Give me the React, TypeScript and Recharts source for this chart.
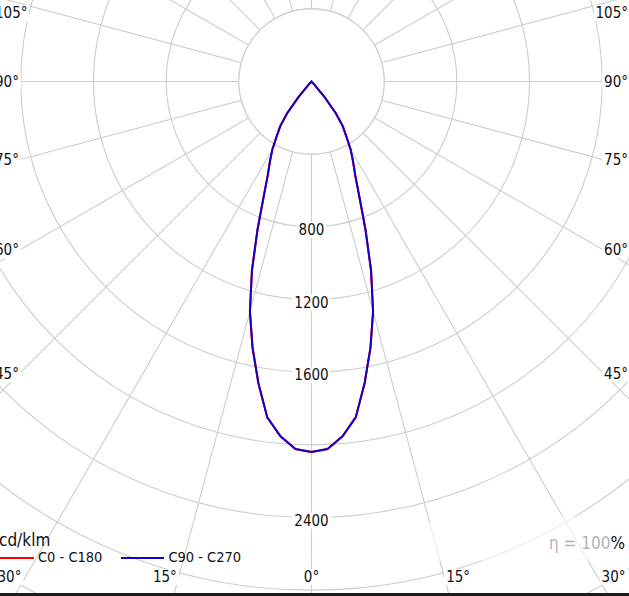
import React from 'react';
import { RadarChart, Radar, PolarGrid, PolarAngleAxis, PolarRadiusAxis, Legend } from 'recharts';

// gamma angles of one half plane (deg), 2.5° steps
const gamma = [
  0, 2.5, 5, 7.5, 10, 12.5, 15, 17.5, 20, 22.5, 25, 27.5, 30, 32.5, 35, 37.5, 40, 42.5, 45,
  47.5, 50, 52.5, 55, 57.5, 60, 62.5, 65, 67.5, 70, 72.5, 75, 77.5, 80, 82.5, 85, 87.5, 90,
  92.5, 95, 97.5, 100, 102.5, 105, 107.5, 110, 112.5, 115, 117.5, 120, 122.5, 125, 127.5, 130,
  132.5, 135, 137.5, 140, 142.5, 145, 147.5, 150, 152.5, 155, 157.5, 160, 162.5, 165, 167.5,
  170, 172.5, 175, 177.5, 180,
];

// cd/klm (both planes overlap)
const c0c180 = [
  2040, 2025, 1960, 1865, 1685, 1500, 1310, 1090, 870, 690, 570, 495, 430, 355, 300, 220, 112, 25, 0,
  0, 0, 0, 0, 0, 0, 0, 0, 0, 0, 0, 0, 0, 0, 0, 0, 0, 0,
  0, 0, 0, 0, 0, 0, 0, 0, 0, 0, 0, 0, 0, 0, 0, 0, 0,
  0, 0, 0, 0, 0, 0, 0, 0, 0, 0, 0, 0, 0, 0, 0, 0, 0, 0,
];
const c90c270 = [
  2040, 2025, 1960, 1865, 1685, 1500, 1310, 1090, 870, 690, 570, 495, 430, 355, 300, 220, 112, 25, 0,
  0, 0, 0, 0, 0, 0, 0, 0, 0, 0, 0, 0, 0, 0, 0, 0, 0, 0,
  0, 0, 0, 0, 0, 0, 0, 0, 0, 0, 0, 0, 0, 0, 0, 0, 0, 0, 0,
  0, 0, 0, 0, 0, 0, 0, 0, 0, 0, 0, 0, 0, 0, 0, 0, 0, 0,
];

const radiusDomain = [0, 3600];
const hubValue = 400;
const radiusLabels = [800, 1200, 1600, 2400];
const angleLabels = [0, 15, 30, 45, 60, 75, 90, 105];
const gridStep = 15;

const W = 629;
const H = 596;
const CX = 311.5;
const CY = 81.5;
const OUTER = 654;
const FONT = '"DejaVu Sans Condensed", "DejaVu Sans", sans-serif';
const GRID = '#cdcdcd';

// full circle: one half C0 / C90, the other C180 / C270
const N = 2 * (gamma.length - 1);
const data = Array.from({ length: N }, (_, pos) => {
  const k = pos < gamma.length ? pos : N - pos;
  return { pos, gamma: gamma[k], c0: c0c180[k], c90: c90c270[k], hub: hubValue };
});

const gridAngles = Array.from({ length: 360 / gridStep }, (_, i) => -90 + i * gridStep);

// frame the angle labels sit against
const frame = { left: -5, right: 628, bottom: 584, labelY: 577, minY: 13 };

const AngleTick = (props: any) => {
  const pos = Number(props.payload?.value);
  const row = data[pos];
  if (!row || !angleLabels.includes(row.gamma)) return <g />;
  let dx = props.x - CX;
  let dy = props.y - CY;
  const len = Math.hypot(dx, dy) || 1;
  dx /= len;
  dy /= len;
  if (Math.abs(dx) < 1e-6) dx = 0;
  const label = `${row.gamma}°`;
  const w = label.length * 8;
  const tSide = dx > 0 ? (frame.right - w - CX) / dx : dx < 0 ? (frame.left + w - CX) / dx : Infinity;
  const tBottom = dy > 1e-6 ? (frame.bottom - CY) / dy : Infinity;
  let x: number;
  let y: number;
  let anchor: 'start' | 'middle' | 'end';
  if (tSide < tBottom) {
    x = dx > 0 ? frame.right : frame.left;
    y = Math.max(frame.minY, CY + dy * tSide);
    anchor = dx > 0 ? 'end' : 'start';
  } else {
    x = CX + dx * tBottom;
    y = frame.labelY;
    anchor = dx === 0 ? 'middle' : dx > 0 ? 'start' : 'end';
  }
  const rx = anchor === 'start' ? x - 2 : anchor === 'end' ? x - w - 2 : x - w / 2 - 2;
  return (
    <g>
      <rect x={rx} y={y - 8} width={w + 4} height={16} fill="#fff" />
      <text x={x} y={y} textAnchor={anchor} dominantBaseline="central" fontFamily={FONT} fontSize={15} fill="#111">
        {label}
      </text>
    </g>
  );
};

const RadiusTick = (props: any) => {
  const v = Number(props.payload?.value);
  if (!radiusLabels.includes(v)) return <g />;
  const label = String(v);
  const w = label.length * 8.6;
  const y = props.y + 3;
  return (
    <g>
      <rect x={props.x - w / 2 - 2} y={y - 8} width={w + 4} height={16} fill="#fff" />
      <text x={props.x} y={y} textAnchor="middle" dominantBaseline="central" fontFamily={FONT} fontSize={15} fill="#111">
        {label}
      </text>
    </g>
  );
};

const LegendContent = (props: any) => {
  const items = (props.payload || []).filter((p: any) => p.type !== 'none');
  return (
    <div style={{ fontFamily: FONT, color: '#111' }}>
      <div style={{ fontSize: 17, lineHeight: '18px', marginLeft: 8 }}>cd/klm</div>
      <div style={{ display: 'flex', alignItems: 'center', fontSize: 14.5, lineHeight: '17px' }}>
        {items.map((p: any) => (
          <div key={p.value} style={{ display: 'flex', alignItems: 'center', marginRight: 19 }}>
            <svg width={43} height={4}>
              <line x1={0} y1={2} x2={43} y2={2} stroke={p.color} strokeWidth={2} />
            </svg>
            <span style={{ marginLeft: 4 }}>{p.value}</span>
          </div>
        ))}
      </div>
    </div>
  );
};

export default function App() {
  return (
    <div style={{ position: 'fixed', left: 0, top: 0, width: W, height: H, background: '#fff', overflow: 'hidden' }}>
      <RadarChart
        width={W}
        height={H}
        data={data}
        cx={CX}
        cy={CY}
        outerRadius={OUTER}
        startAngle={-90}
        endAngle={-450}
        margin={{ top: 0, right: 0, bottom: 0, left: 0 }}
      >
        <PolarGrid gridType="circle" polarAngles={gridAngles} stroke={GRID} strokeWidth={1.1} />
        <Radar
          dataKey="hub"
          legendType="none"
          stroke={GRID}
          strokeWidth={1.1}
          fill="#fff"
          fillOpacity={1}
          dot={false}
          activeDot={false}
          isAnimationActive={false}
        />
        <PolarAngleAxis dataKey="pos" axisLine={false} tickLine={false} tick={<AngleTick />} />
        <PolarRadiusAxis
          angle={-90}
          domain={radiusDomain}
          tickCount={10}
          axisLine={false}
          tickLine={false}
          tick={<RadiusTick />}
        />
        <Radar
          name="C0 - C180"
          dataKey="c0"
          stroke="#ff0000"
          strokeWidth={2}
          fill="none"
          fillOpacity={0}
          dot={false}
          activeDot={false}
          isAnimationActive={false}
        />
        <Radar
          name="C90 - C270"
          dataKey="c90"
          stroke="#1400c8"
          strokeWidth={2}
          fill="none"
          fillOpacity={0}
          dot={false}
          activeDot={false}
          isAnimationActive={false}
        />
        <Legend
          content={<LegendContent />}
          wrapperStyle={{ position: 'absolute', left: -9, top: 531, width: 320, height: 40 }}
        />
        {/* faded patch behind the efficiency note */}
        <rect x={428} y={517} width={170} height={44} rx={12} fill="#fff" fillOpacity={0.6} />
        <text x={625} y={543} textAnchor="end" dominantBaseline="central" fontFamily={FONT} fontSize={17}>
          <tspan fill="#b4b4b4">η = 100</tspan>
          <tspan fill="#111">%</tspan>
        </text>
      </RadarChart>
      <div style={{ position: 'absolute', left: 0, top: 593, width: W, height: 3, background: '#1c1c1c' }} />
    </div>
  );
}
